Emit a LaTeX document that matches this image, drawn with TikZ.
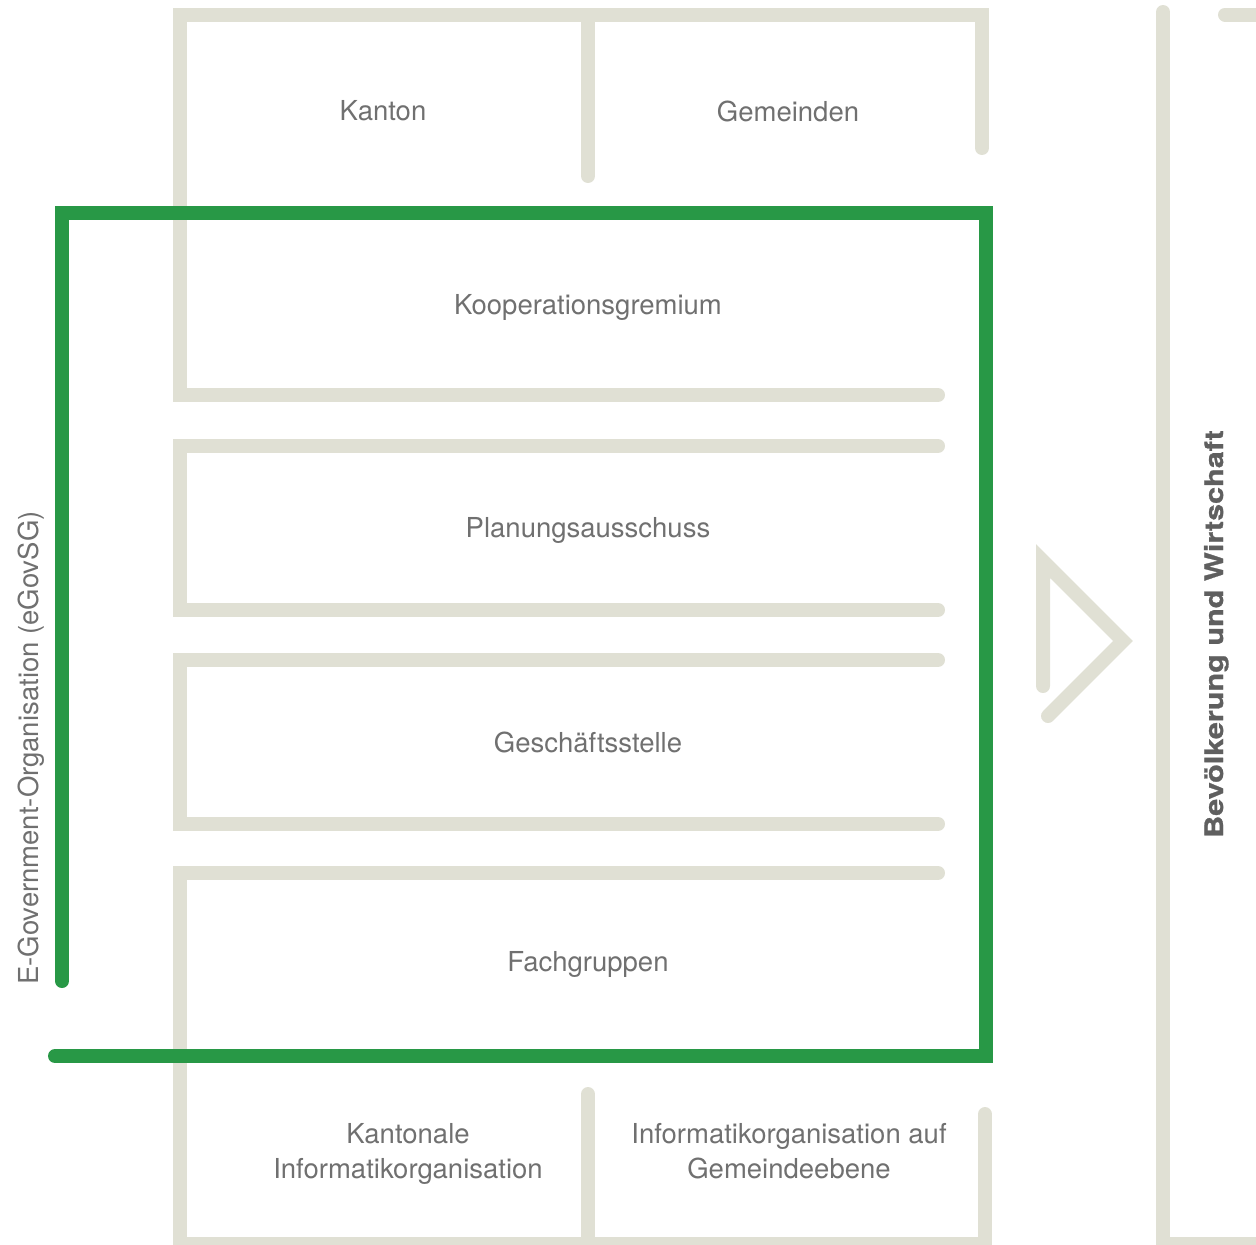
\documentclass[tikz,border=0pt]{standalone}
\usepackage{fontspec}
\setmainfont{TeX Gyre Heros}
\definecolor{wallc}{RGB}{224,224,212}
\definecolor{egreen}{RGB}{40,152,70}
\definecolor{txtc}{RGB}{112,112,112}
\begin{document}
\begin{tikzpicture}[x=1pt,y=-1pt,
  wall/.style={draw=wallc,line width=14pt,line cap=round,line join=miter},
  gline/.style={draw=egreen,line width=14pt,line cap=round,line join=miter},
  lbl/.style={text=txtc,font=\fontsize{27.5}{35}\selectfont,inner sep=0pt,anchor=base},
  side/.style={text=txtc,font=\fontsize{27.5}{35}\selectfont,inner sep=0pt,rotate=90,anchor=base west},
  sidebold/.style={text=txtc!85!black,font=\fontsize{25.5}{30}\bfseries\selectfont\addfontfeatures{FakeStretch=1.2,FakeBold=1},inner sep=0pt,rotate=90,anchor=base west}]
\useasboundingbox (0,0) rectangle (1256,1245);

% beige walls
\draw[wall] (938,395) -- (180,395) -- (180,14.5) -- (982,14.5) -- (982,148);
\draw[wall] (588,20) -- (588,176);
\draw[wall] (938,446) -- (180,446) -- (180,610) -- (938,610);
\draw[wall] (938,660) -- (180,660) -- (180,824) -- (938,824);
\draw[wall] (938,873) -- (180,873) -- (180,1244) -- (985,1244) -- (985,1114);
\draw[wall] (588,1094) -- (588,1240);
\draw[wall] (1163,12) -- (1163,1244) -- (1290,1244);
\draw[wall] (1225,14.5) -- (1290,14.5);
\draw[wall] (1043,686) -- (1043,561) -- (1123,641) -- (1048,716);

% green frame
\draw[gline] (62,981) -- (62,213) -- (985.5,213) -- (985.5,1056) -- (55,1056);

% labels
\node[lbl] (kanton) at (383,120.7) {Kanton};
\node[lbl] (gemeinden) at (788,121) {Gemeinden};
\node[lbl] (koop) at (588,314) {Kooperationsgremium};
\node[lbl] (plan) at (588,537) {Planungsausschuss};
\node[lbl] (gesch) at (588,752) {Geschäftsstelle};
\node[lbl] (fach) at (588,971.5) {Fachgruppen};
\node[lbl] (kio1) at (408,1143.3) {Kantonale};
\node[lbl] (kio2) at (408,1178.3) {Informatikorganisation};
\node[lbl] (gio1) at (789,1143.3) {Informatikorganisation auf};
\node[lbl] (gio2) at (789,1178.3) {Gemeindeebene};
\node[side] (egov) at (38.5,985) {E-Government-Organisation (eGovSG)};
\node[sidebold] (bev) at (1223,838) {Bevölkerung und Wirtschaft};
\end{tikzpicture}
\end{document}
